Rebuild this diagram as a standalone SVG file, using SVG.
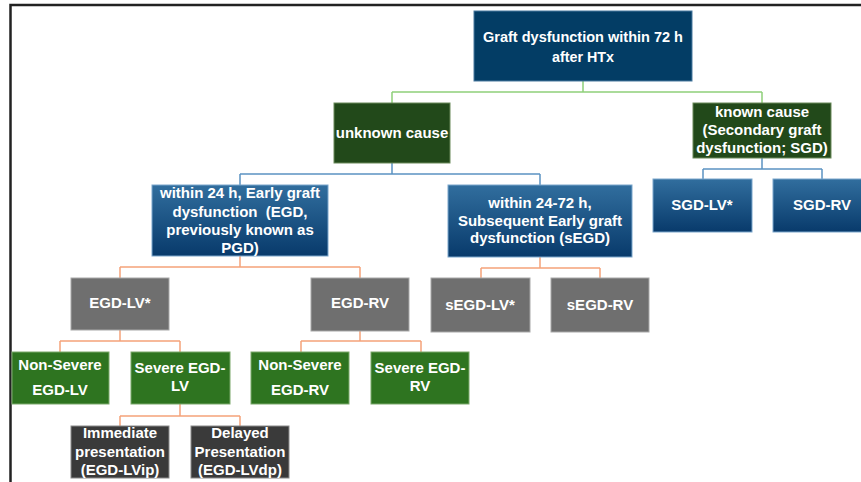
<svg xmlns="http://www.w3.org/2000/svg" width="861" height="482" viewBox="0 0 861 482">
<defs>
<linearGradient id="gBlue" x1="0" y1="0" x2="0" y2="1">
<stop offset="0" stop-color="#316e9e"/>
<stop offset="1" stop-color="#083a6b"/>
</linearGradient>
</defs>
<style>
text{font-family:"Liberation Sans",Arial,sans-serif;font-weight:bold;font-size:15px;fill:#ffffff;text-anchor:middle}
.pre{white-space:pre}
.navy{fill:#033d65;stroke:#4a7aa0;stroke-width:1}
.dgreen{fill:#22491a;stroke:#6a8a5a;stroke-width:1}
.blue{fill:url(#gBlue);stroke:#7aa6cc;stroke-width:1}
.gray{fill:#6f6f6f;stroke:#a8a8a8;stroke-width:1}
.green{fill:#2e7420;stroke:#7aa86a;stroke-width:1}
.dark{fill:#3a3a3a;stroke:#8a8a8a;stroke-width:1}
.cg{stroke:#8fd07a;stroke-width:1.5;fill:none}
.cb{stroke:#5b93c2;stroke-width:1.5;fill:none}
.co{stroke:#f5a27a;stroke-width:1.5;fill:none}
</style>
<rect x="0" y="0" width="861" height="482" fill="#ffffff"/>
<path d="M10.5,482 V5 H861" fill="none" stroke="#222222" stroke-width="2.5"/>
<g id="connectors">
<path class="cg" d="M583,81 V92 M392,92 H762 M392,92 V103 M762,92 V103"/>
<path class="cb" d="M392,163 V174 M240,174 H540 M240,174 V185 M540,174 V185"/>
<path class="cb" d="M762,158 V169 M703,169 H822 M703,169 V179 M822,169 V179"/>
<path class="co" d="M240,256 V267 M120,267 H360 M120,267 V278 M360,267 V278"/>
<path class="co" d="M540,257 V268 M481,268 H600 M481,268 V278 M600,268 V278"/>
<path class="co" d="M120,330 V341 M60,341 H180 M60,341 V352 M180,341 V352"/>
<path class="co" d="M360,331 V341 M301,341 H421 M301,341 V352 M421,341 V352"/>
<path class="co" d="M180,404 V416 M120,416 H240 M120,416 V426 M240,416 V426"/>
</g>
<g id="n_top">
<rect class="navy" x="474" y="11" width="218" height="70"/>
<text x="583" y="42" textLength="200" lengthAdjust="spacingAndGlyphs">Graft dysfunction within 72 h</text>
<text x="583" y="62" textLength="62" lengthAdjust="spacingAndGlyphs">after HTx</text>
</g>
<g id="n_unknown">
<rect class="dgreen" x="334" y="103" width="116" height="60"/>
<text x="392" y="138">unknown cause</text>
</g>
<g id="n_known">
<rect class="dgreen" x="693" y="103" width="138" height="55"/>
<text x="762" y="117">known cause</text>
<text x="762" y="135">(Secondary graft</text>
<text x="762" y="153">dysfunction; SGD)</text>
</g>
<g id="n_egd">
<rect class="blue" x="152" y="185" width="176" height="71"/>
<text x="240" y="198">within 24 h, Early graft</text>
<text class="pre" x="240" y="217" xml:space="preserve">dysfunction  (EGD,</text>
<text x="240" y="235">previously known as</text>
<text x="240" y="253">PGD)</text>
</g>
<g id="n_segd">
<rect class="blue" x="448" y="185" width="184" height="72"/>
<text x="540" y="208">within 24-72 h,</text>
<text x="540" y="226">Subsequent Early graft</text>
<text x="540" y="243">dysfunction (sEGD)</text>
</g>
<g id="n_sgdlv">
<rect class="blue" x="653" y="179" width="99" height="53"/>
<text x="702" y="210">SGD-LV*</text>
</g>
<g id="n_sgdrv">
<rect class="blue" x="773" y="179" width="98" height="53"/>
<text x="822" y="210">SGD-RV</text>
</g>
<g id="n_egdlv">
<rect class="gray" x="71" y="278" width="98" height="52"/>
<text x="120" y="308">EGD-LV*</text>
</g>
<g id="n_egdrv">
<rect class="gray" x="311" y="278" width="98" height="53"/>
<text x="360" y="308">EGD-RV</text>
</g>
<g id="n_segdlv">
<rect class="gray" x="431" y="278" width="99" height="54"/>
<text x="480" y="310">sEGD-LV*</text>
</g>
<g id="n_segdrv">
<rect class="gray" x="551" y="278" width="98" height="54"/>
<text x="600" y="310">sEGD-RV</text>
</g>
<g id="n_nonsev_lv">
<rect class="green" x="12" y="352" width="97" height="52"/>
<text x="60" y="370">Non-Severe</text>
<text x="60" y="395">EGD-LV</text>
</g>
<g id="n_sev_lv">
<rect class="green" x="131" y="352" width="99" height="52"/>
<text x="180" y="373">Severe EGD-</text>
<text x="180" y="391">LV</text>
</g>
<g id="n_nonsev_rv">
<rect class="green" x="251" y="352" width="98" height="52"/>
<text x="300" y="370">Non-Severe</text>
<text x="300" y="395">EGD-RV</text>
</g>
<g id="n_sev_rv">
<rect class="green" x="371" y="352" width="98" height="52"/>
<text x="420" y="373">Severe EGD-</text>
<text x="420" y="391">RV</text>
</g>
<g id="n_imm">
<rect class="dark" x="71" y="426" width="98" height="52"/>
<text x="120" y="438">Immediate</text>
<text x="120" y="457">presentation</text>
<text x="120" y="475">(EGD-LVip)</text>
</g>
<g id="n_del">
<rect class="dark" x="191" y="426" width="98" height="52"/>
<text x="240" y="438">Delayed</text>
<text x="240" y="457">Presentation</text>
<text x="240" y="475">(EGD-LVdp)</text>
</g>
</svg>
